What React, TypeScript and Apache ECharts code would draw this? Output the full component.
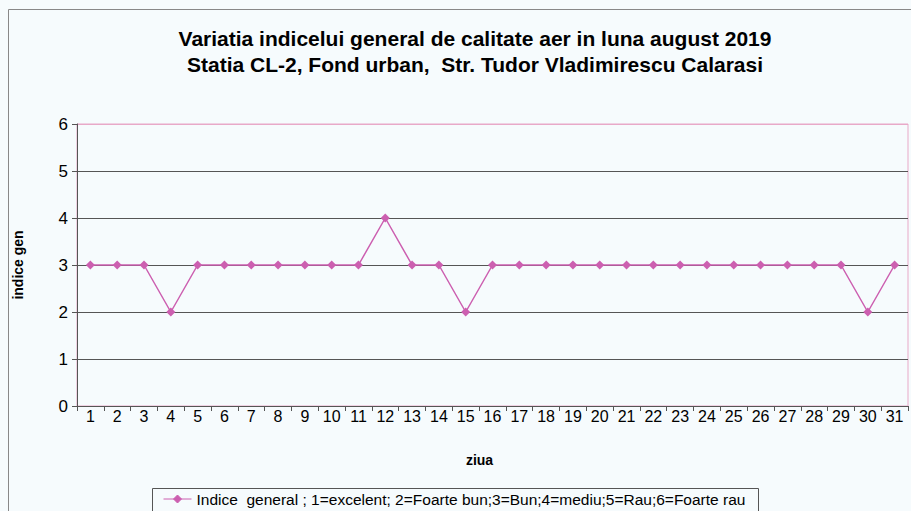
import React, { useEffect, useRef } from "react";
import * as echarts from "echarts";

const days = Array.from({ length: 31 }, (_, i) => String(i + 1));
const indexValues = [3, 3, 3, 2, 3, 3, 3, 3, 3, 3, 3, 4, 3, 3, 2, 3, 3, 3, 3, 3, 3, 3, 3, 3, 3, 3, 3, 3, 3, 2, 3];
const yTicks = [0, 1, 2, 3, 4, 5, 6];
const titleLines = [
  "Variatia indicelui general de calitate aer in luna august 2019",
  "Statia CL-2, Fond urban,  Str. Tudor Vladimirescu Calarasi",
];
const seriesName = "Indice  general ; 1=excelent; 2=Foarte bun;3=Bun;4=mediu;5=Rau;6=Foarte rau";

const SANS = "'Liberation Sans', Arial, sans-serif";

export default function App() {
  const ref = useRef<HTMLDivElement>(null);
  useEffect(() => {
    document.body.style.margin = "0";
    const chart = echarts.init(ref.current!, null, { renderer: "svg" });
    chart.setOption({
      animation: false,
      backgroundColor: "#f6fbfd",
      title: {
        text: titleLines.join("\n"),
        left: 470,
        textAlign: "center",
        top: 20,
        textStyle: { fontFamily: SANS, fontSize: 21, fontWeight: "bold", color: "#000", lineHeight: 26 },
      },
      graphic: [
        {
          type: "rect",
          shape: { x: 8.5, y: 9.5, width: 920, height: 520 },
          style: { fill: "none", stroke: "#888", lineWidth: 1 },
          silent: true,
        },
        {
          type: "rect",
          shape: { x: 152.5, y: 488.5, width: 606, height: 40 },
          style: { fill: "none", stroke: "#555", lineWidth: 1 },
          silent: true,
        },
      ],
      legend: {
        left: 158,
        top: 486,
        itemWidth: 28,
        itemHeight: 8,
        itemGap: 6,
        icon: "path://M0,4L28,4M14,0L18,4L14,8L10,4Z",
        textStyle: { fontFamily: SANS, fontSize: 15.5, color: "#000" },
        data: [{ name: seriesName, itemStyle: { color: "#cc5fb0", borderColor: "#cc5fb0", borderWidth: 1 } }],
      },
      grid: {
        left: 77,
        right: 3,
        top: 124,
        bottom: 105,
        show: true,
        borderColor: "#e8a9c8",
        borderWidth: 1,
        backgroundColor: "transparent",
      },
      xAxis: {
        type: "category",
        data: days,
        boundaryGap: true,
        name: "ziua",
        nameLocation: "middle",
        nameGap: 47,
        nameTextStyle: { fontFamily: SANS, fontSize: 14, fontWeight: "bold", color: "#000", padding: [0, 26, 0, 0] },
        axisLine: { lineStyle: { color: "#555", width: 1 } },
        axisTick: { show: true, alignWithLabel: false, length: 5, lineStyle: { color: "#555" } },
        axisLabel: { fontFamily: SANS, fontSize: 16, color: "#000", margin: 2, interval: 0 },
        splitLine: { show: false },
      },
      yAxis: {
        type: "value",
        min: 0,
        max: 6,
        interval: 1,
        name: "indice gen",
        nameLocation: "middle",
        nameGap: 52,
        nameRotate: 90,
        nameTextStyle: { fontFamily: SANS, fontSize: 14, fontWeight: "bold", color: "#000" },
        axisLine: { show: true, lineStyle: { color: "#555", width: 1 } },
        axisTick: { show: true, length: 5, lineStyle: { color: "#555" } },
        axisLabel: { fontFamily: SANS, fontSize: 17, color: "#000", margin: 9 },
        splitLine: {
          show: true,
          lineStyle: { color: ["#555", "#555", "#555", "#555", "#555", "#555", "#e8a9c8"], width: 1 },
        },
      },
      series: [
        {
          name: seriesName,
          type: "line",
          data: indexValues,
          symbol: "diamond",
          symbolSize: 9,
          lineStyle: { color: "#cc5fb0", width: 1.5 },
          itemStyle: { color: "#cc5fb0" },
        },
      ],
    });
    return () => chart.dispose();
  }, []);
  return <div ref={ref} style={{ width: 911, height: 511, position: "absolute", left: 0, top: 0 }} />;
}
